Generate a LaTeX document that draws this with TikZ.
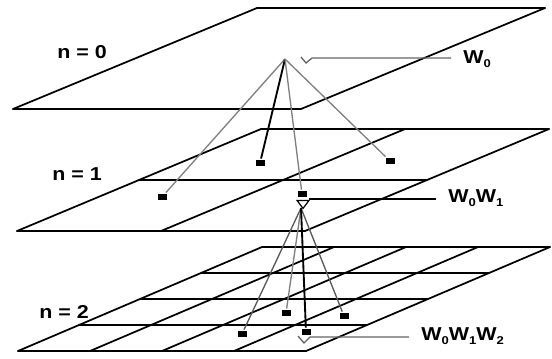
\documentclass[tikz,border=0pt]{standalone}
\usepackage{fontspec}
\setmainfont{Liberation Sans}
\newfontfamily\widefont[FakeStretch=1.15]{Liberation Sans}
\newcommand{\sbs}[1]{\raisebox{-3.2pt}{\fontsize{8.5}{9}\selectfont #1}}
\usetikzlibrary{calc}

\begin{document}
\begin{tikzpicture}[x=0.75pt, y=-0.75pt,
      plane/.style={line width=1.3pt, line cap=round},
      cell/.style={draw, fill=black, minimum width=6pt, minimum height=3.6pt,
                   inner sep=0pt, outer sep=1.5pt},
      lvl/.style={font=\widefont\bfseries\fontsize{14}{15}\selectfont,
                  anchor=base west, inner sep=0pt},
      link/.style={gray, line width=1pt},
      mainlink/.style={black, line width=1.4pt},
      lead/.style={gray!80!black, line width=1pt, shorten >=9pt}
    ]
    \useasboundingbox (0,0) rectangle (552,358);

    % ---- the three planes, 1x1, 2x2 and 4x4 ----
    \foreach \xb/\yb/\ht/\k in {13/109/101/1, 17/231/102/2, 18/351/104/4} {
      \foreach \i in {0,...,\k} {
        \draw[plane] ({\xb+244*\i/\k}, {\yb-\ht*\i/\k}) -- ++(288,0);
        \draw[plane] ({\xb+288*\i/\k}, \yb) -- ++(244,-\ht);
      }
    }

    % ---- level labels ----
    \node[lvl] (n0) at (57,58) {n = 0};
    \node[lvl] (n1) at (52,180) {n = 1};
    \node[lvl] (n2) at (39,318) {n = 2};

    % ---- weight labels ----
    \node[lvl] (w0) at (463,63) {W\sbs{0}};
    \node[lvl] (w01) at (448,202) {W\sbs{0}W\sbs{1}};
    \node[lvl] (w012) at (421,340) {W\sbs{0}W\sbs{1}W\sbs{2}};

    % ---- n = 0 to n = 1 ----
    \coordinate (top0) at (285,59);
    \node[cell] (c1a) at (162,197) {};
    \node[cell] (c1b) at (260,163) {};
    \node[cell] (c1c) at (390,161) {};
    \node[cell] (c1d) at (302,194) {};
    \draw[link] (top0) -- (c1a);
    \draw[mainlink] (top0) -- (c1b);
    \draw[link] (top0) -- (c1c);
    \draw[link] (top0) -- (c1d);

    % ---- n = 1 to n = 2 ----
    \coordinate (top1) at (301,208);
    \node[cell] (c2a) at (242,334) {};
    \node[cell] (c2b) at (286,313) {};
    \node[cell] (c2c) at (344,316) {};
    \node[cell] (c2d) at (306,332) {};
    \draw[link, gray!70!black] (top1) -- (c2a);
    \draw[link] (top1) -- (c2b);
    \draw[link, gray!70!black] (top1) -- (c2c);
    \draw[mainlink] (top1) -- (c2d);

    % ---- leaders ----
    \coordinate (m0) at (312,58);
    \coordinate (m1) at (309,199);
    \coordinate (m2) at (310,337);
    \draw[lead] ($(m0)+(-11,-1)$) -- ($(m0)+(-6,5)$) -- (m0) -- (m0 -| w0.west);
    \draw[black, line width=0.9pt] (c1d.south) ++(-5,2) -- ++(12,0) -- ++(-6,8) -- cycle;
    \draw[lead, black] (m1) -- (m1 -| w01.west);
    \draw[lead] ($(m2)+(-12,-1)$) -- ($(m2)+(-6,6)$) -- (m2) -- (m2 -| w012.west);
\end{tikzpicture}
\end{document}
